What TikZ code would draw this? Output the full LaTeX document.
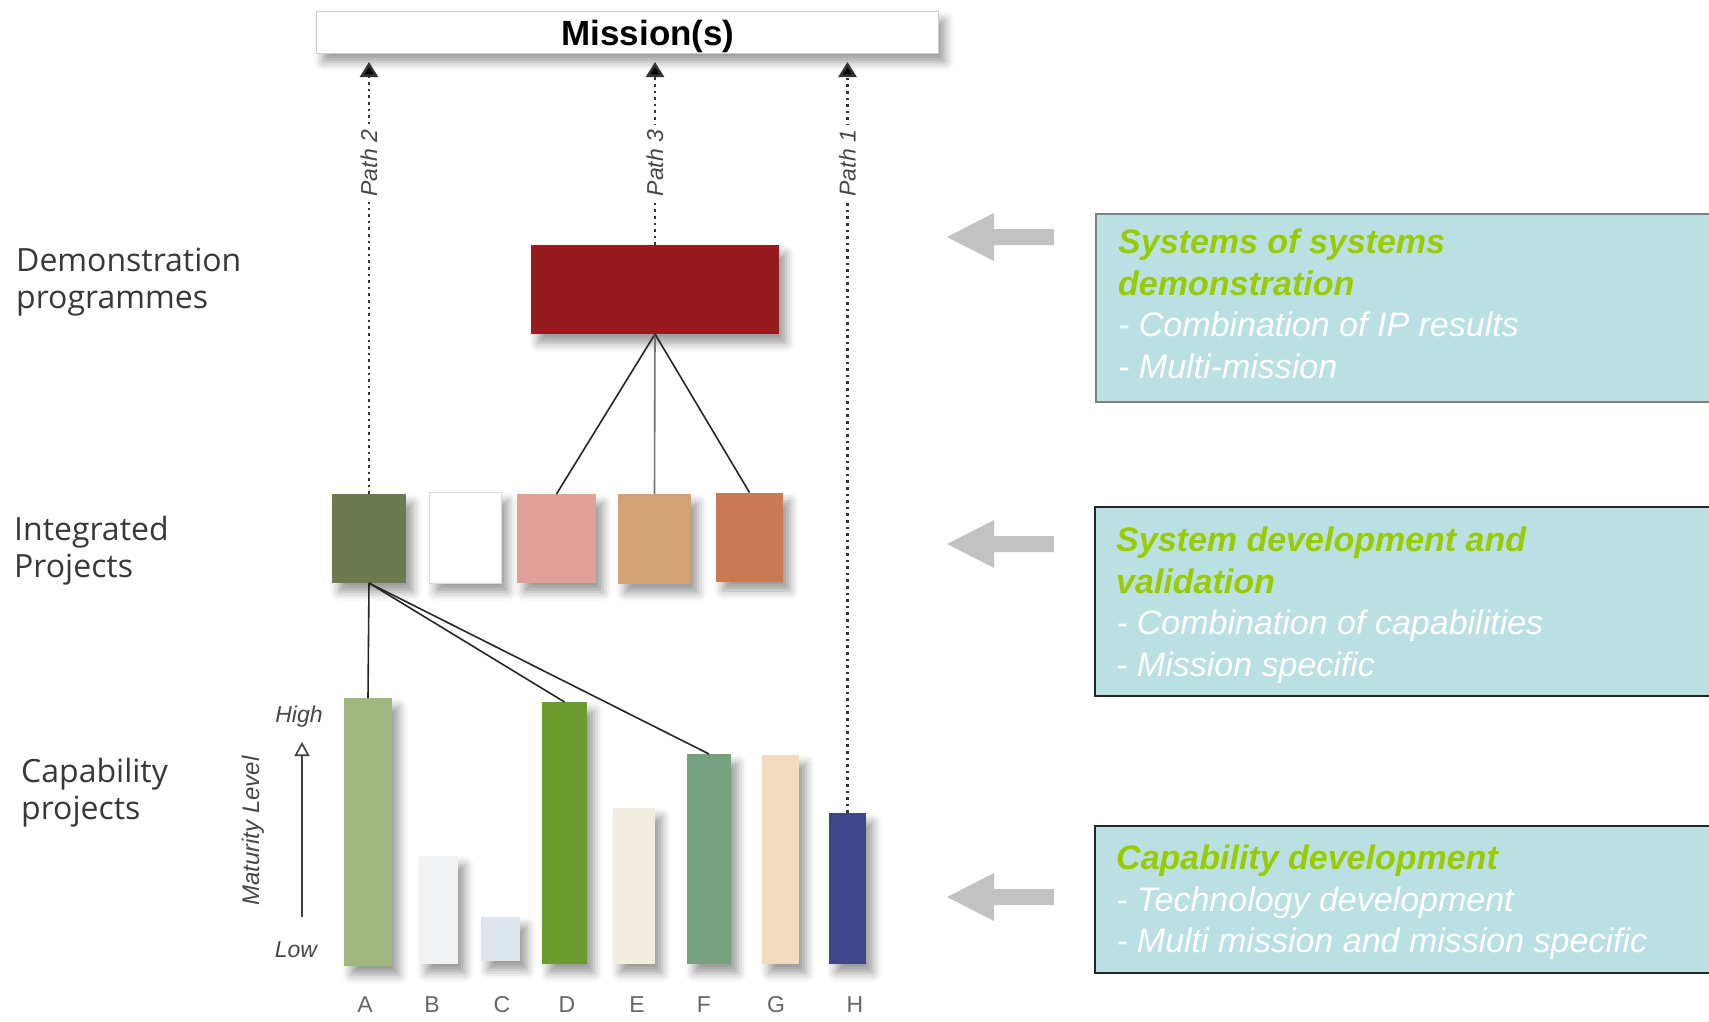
\documentclass[tikz,border=0pt]{standalone}
\usepackage{fontspec}
\setmainfont{Liberation Sans}
\newfontfamily\lblfont{Open Sans}
\usetikzlibrary{arrows.meta,shadows.blur}
\definecolor{redbox}{HTML}{951B1F}
\definecolor{ipA}{HTML}{6D7A50}
\definecolor{ipC}{HTML}{E0A098}
\definecolor{ipD}{HTML}{D4A272}
\definecolor{ipE}{HTML}{C97A54}
\definecolor{bA}{HTML}{A0B880}
\definecolor{bB}{HTML}{F1F2F4}
\definecolor{bC}{HTML}{DCE5EB}
\definecolor{bD}{HTML}{6B9A2F}
\definecolor{bE}{HTML}{F0ECE0}
\definecolor{bF}{HTML}{76A180}
\definecolor{bG}{HTML}{F2DABE}
\definecolor{bH}{HTML}{3F4589}
\definecolor{teal}{HTML}{BAE0E3}
\definecolor{ttl}{HTML}{99CC00}
\definecolor{garrow}{HTML}{C2C2C2}
\begin{document}
\begin{tikzpicture}[x=1pt,y=-1pt,
  shd/.style={blur shadow={shadow xshift=7pt, shadow yshift=-9pt, shadow blur radius=9pt, shadow opacity=40}},
  blk/.style={inner sep=0pt, outer sep=0pt, shd},
  barbox/.style={blk, anchor=south},
  lbl/.style={font=\lblfont\fontsize{32}{37}\selectfont, text=black!78, align=left, inner sep=0pt, anchor=north west},
  pathline/.style={draw=black!80, line width=2.6pt, dash pattern=on 2.6pt off 4pt, -{Triangle[width=18pt,length=15pt,fill=black]}, shorten >=9pt},
  pathlbl/.style={rotate=90, fill=white, inner sep=5pt, font=\itshape\fontsize{23}{23}\selectfont, text=black!72},
  link/.style={draw=black!85, line width=1.6pt},
  infobox/.style={fill=teal, anchor=north west, inner sep=0pt},
  infotext/.style={anchor=north west, inner sep=0pt, align=left, font=\fontsize{34}{41.5}\selectfont, text=white},
  lettr/.style={font=\fontsize{23}{23}\selectfont, text=black!60},
  axis/.style={font=\itshape\fontsize{23}{23}\selectfont, text=black!72}
]
\useasboundingbox (0,0) rectangle (1709,1021);

% Mission box
\node[blk, draw=black!20, fill=white, minimum width=622pt, minimum height=42pt, anchor=north west] (mission) at (316,11) {};
\node[anchor=base, font=\bfseries\fontsize{35}{35}\selectfont] (mistext) at (648,45) {Mission(s)};

% Demonstration programme
\node[blk, fill=redbox, minimum width=248pt, minimum height=89pt] (red) at (655,289.5) {};

% Integrated projects
\node[blk, fill=ipA, minimum width=74pt, minimum height=89pt] (ip1) at (369,538.5) {};
\node[blk, draw=black!15, fill=white, minimum width=72pt, minimum height=91pt] (ip2) at (465,537.5) {};
\node[blk, fill=ipC, minimum width=79pt, minimum height=89pt] (ip3) at (556.5,538.5) {};
\node[blk, fill=ipD, minimum width=73pt, minimum height=90pt] (ip4) at (654.5,539) {};
\node[blk, fill=ipE, minimum width=67pt, minimum height=89pt] (ip5) at (749.5,537) {};

% Capability bars
\node[barbox, fill=bA, minimum width=48pt, minimum height=268pt] (barA) at (368,966) {};
\node[barbox, fill=bB, minimum width=39pt, minimum height=108pt] (barB) at (438.5,964) {};
\node[barbox, fill=bC, minimum width=39pt, minimum height=44pt] (barC) at (500.5,961) {};
\node[barbox, fill=bD, minimum width=45pt, minimum height=262pt] (barD) at (564.5,964) {};
\node[barbox, fill=bE, minimum width=42pt, minimum height=156pt] (barE) at (634,964) {};
\node[barbox, fill=bF, minimum width=44pt, minimum height=210pt] (barF) at (709,964) {};
\node[barbox, fill=bG, minimum width=37pt, minimum height=209pt] (barG) at (780.5,964) {};
\node[barbox, fill=bH, minimum width=37pt, minimum height=151pt] (barH) at (847.5,964) {};

% bar letters
\node[lettr] (lA) at (365,1005) {A};
\node[lettr] (lB) at (432,1005) {B};
\node[lettr] (lC) at (502,1005) {C};
\node[lettr] (lD) at (567,1005) {D};
\node[lettr] (lE) at (637,1005) {E};
\node[lettr] (lF) at (704,1005) {F};
\node[lettr] (lG) at (776,1005) {G};
\node[lettr] (lH) at (855,1005) {H};

% maturity axis
\coordinate (lowend) at (302,917);
\coordinate (highend) at (302,742);
\draw[draw=black!75, line width=2pt, -{Triangle[open,width=15pt,length=14pt,line width=1.6pt]}] (lowend) -- (highend);
\node[axis] (high) at (299,717) {High};
\node[axis] (low) at (296,950) {Low};
\node[axis, rotate=90, font=\itshape\fontsize{24}{24}\selectfont] (mat) at (253,831) {Maturity Level};

% connectors
\draw[link] (red.south) -- (ip3.north);
\draw[link, draw=black!55] (red.south) -- (ip4.north);
\draw[link] (red.south) -- (ip5.north);
\draw[link] (ip1.south) -- (barA.north);
\draw[link] (ip1.south) -- (barD.north);
\draw[link] (ip1.south) -- (barF.north);

% paths to mission
\draw[pathline] (ip1.north) -- node[pathlbl, pos=0.75] {Path 2} (ip1.north |- mission.south);
\draw[pathline] (red.north) -- node[pathlbl, pos=0.427] {Path 3} (red.north |- mission.south);
\draw[pathline] (barH.north) -- node[pathlbl, pos=0.855] {Path 1} (barH.north |- mission.south);

% left labels
\node[lbl] (ldemo) at (16,248) {Demonstration\\programmes};
\node[lbl] (lint) at (14,516) {Integrated\\Projects};
\node[lbl] (lcap) at (21,758) {Capability\\projects};

% gray arrows
\foreach \yy in {237,544,897}{
  \fill[garrow] (947,\yy) -- ++(47,-24) -- ++(0,16) -- ++(60,0) -- ++(0,16) -- ++(-60,0) -- ++(0,16) -- cycle;
}

% info boxes
\node[infobox, draw=black!50, line width=1.5pt, minimum width=630pt, minimum height=188pt] (box1) at (1095,213) {};
\node[infobox, draw=black!85, line width=2pt, minimum width=630pt, minimum height=189pt] (box2) at (1094,506) {};
\node[infobox, draw=black!85, line width=2pt, minimum width=630pt, minimum height=147pt] (box3) at (1094,825) {};

\node[infotext] (t1) at (1118,229) {\textcolor{ttl}{\bfseries\itshape Systems of systems}\\\textcolor{ttl}{\bfseries\itshape demonstration}\\\itshape - Combination of IP results\\\itshape - Multi-mission};
\node[infotext] (t2) at (1116,527) {\textcolor{ttl}{\bfseries\itshape System development and}\\\textcolor{ttl}{\bfseries\itshape validation}\\\itshape - Combination of capabilities\\\itshape - Mission specific};
\node[infotext] (t3) at (1116,845) {\textcolor{ttl}{\bfseries\itshape Capability development}\\\itshape - Technology development\\\itshape - Multi mission and mission specific};
\end{tikzpicture}
\end{document}
